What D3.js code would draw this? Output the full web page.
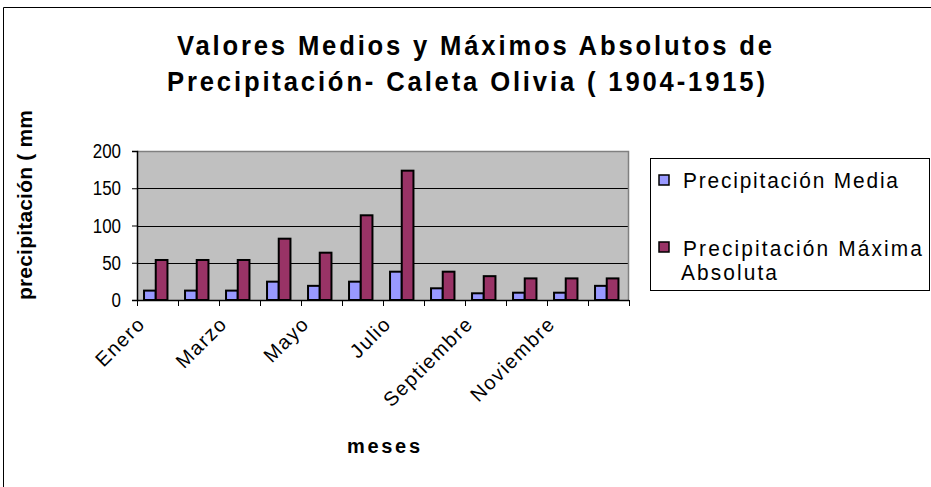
<!DOCTYPE html>
<html><head><meta charset="utf-8">
<script src="https://cdn.jsdelivr.net/npm/d3@7"></script>
<style>body{margin:0;background:#fff}svg{display:block}text{font-family:Arial,"Liberation Sans",sans-serif}</style>
</head><body><svg id="c" width="931" height="487"></svg>
<script>
const months = ["Enero","Febrero","Marzo","Abril","Mayo","Junio","Julio","Agosto","Septiembre","Octubre","Noviembre","Diciembre"];
const seriesNames = ["Precipitación Media","Precipitación Máxima Absoluta"];
const media = [12.6,12.6,12.6,24.6,19,24.6,38,15.7,9,9.8,9.8,19];
const maxima = [53.7,53.7,53.7,82.3,63.5,113.7,173.6,38,32,29,29,29];
const yTicks = [0,50,100,150,200];
const colors = ["#9999FF","#993366"];
const titleLines = ["Valores Medios y Máximos Absolutos de","Precipitación- Caleta Olivia ( 1904-1915)"];

const svg = d3.select("#c");
const L=137,R=629,T=151,B=300;
function stext(x,y,str,size,len,bold,anchor,sx){
  sx = sx||1;
  const t = svg.append("text").attr("transform",`translate(${x},${y}) scale(${sx},1)`)
    .attr("font-size",size).attr("font-weight",bold?"bold":"normal").text(str);
  if(anchor) t.attr("text-anchor",anchor);
  if(len) t.attr("textLength",len/sx).attr("lengthAdjust","spacing");
  return t;
}
// outer frame
svg.append("path").attr("d","M3.5,487 V7.5 H931").attr("fill","none").attr("stroke","#000");

const x0 = d3.scaleBand().domain(months).range([L,R]).padding(0);
const bw = x0.bandwidth()/3.5;
const x1 = d3.scaleBand().domain([0,1]).range([bw*0.6, bw*0.6+2*bw]).padding(0);
const y = d3.scaleLinear().domain([0,200]).range([B,T]);

svg.append("rect").attr("x",L).attr("y",T).attr("width",R-L).attr("height",B-T).attr("fill","#C0C0C0");
svg.append("g").selectAll("line").data(yTicks.filter(v=>v>0&&v<200)).join("line")
  .attr("x1",L).attr("x2",R).attr("y1",d=>Math.round(y(d))+0.5).attr("y2",d=>Math.round(y(d))+0.5).attr("stroke","#000");
svg.append("path").attr("d",`M${L},${T+0.5} H${R-0.5} V${B}`).attr("fill","none").attr("stroke","#808080").attr("stroke-width",1.5);

const data = months.map((m,i)=>({m,vals:[media[i],maxima[i]]}));
const g = svg.append("g").selectAll("g").data(data).join("g").attr("transform",d=>`translate(${x0(d.m)},0)`);
g.selectAll("rect").data(d=>d.vals.map((v,k)=>({v,k}))).join("rect")
  .attr("x",d=>x1(d.k)).attr("width",x1.bandwidth())
  .attr("y",d=>y(d.v)).attr("height",d=>B-y(d.v))
  .attr("fill",d=>colors[d.k]).attr("stroke","#000").attr("stroke-width",2);

// y axis
const ya = svg.append("g").attr("transform",`translate(${L},0)`).call(d3.axisLeft(y).tickValues(yTicks).tickSize(5).tickFormat(""));
ya.select(".domain").attr("stroke","#000").attr("stroke-width",1.5);
yTicks.forEach(v=>stext(121, y(v)+7, String(v), 19.5, null, false, "end", 0.87));
// x axis
const xTickPos = months.map(m=>x0(m)).concat([R]);
svg.append("line").attr("x1",L).attr("x2",R).attr("y1",B+0.5).attr("y2",B+0.5).attr("stroke","#000").attr("stroke-width",1.5);
svg.append("g").selectAll("line").data(xTickPos).join("line")
  .attr("x1",d=>Math.round(d)+0.5).attr("x2",d=>Math.round(d)+0.5).attr("y1",B).attr("y2",B+6).attr("stroke","#000");
svg.append("g").selectAll("text").data(months.filter((m,i)=>i%2===0)).join("text")
  .attr("transform",d=>`translate(${x0(d)+x0.bandwidth()/2-11},${B+25}) rotate(-45)`)
  .attr("text-anchor","end").attr("font-size",20).attr("letter-spacing",1.5).text(d=>d);

// titles
titleLines.forEach((t,i)=>stext(i===0?177:167, i===0?55:91, t, 27, i===0?595:598, true, null, 0.95));
stext(347, 453, "meses", 20, 73, true);
svg.append("text").attr("transform",`translate(32,300) rotate(-90)`).attr("font-size",21).attr("font-weight","bold")
  .attr("textLength",190).attr("lengthAdjust","spacing").text("precipitación ( mm");

// legend
svg.append("rect").attr("x",650.5).attr("y",158.5).attr("width",279).attr("height",132).attr("fill","#fff").attr("stroke","#000");
const legY=[[175,188,215,["Precipitación Media"]],[242,256,239,["Precipitación Máxima","Absoluta"]]];
legY.forEach((l,k)=>{
  svg.append("rect").attr("x",659).attr("y",l[0]).attr("width",10).attr("height",10).attr("fill",colors[k]).attr("stroke","#000").attr("stroke-width",1.5);
  l[3].forEach((t,j)=>stext(j===0?683:681, l[1]+j*24, t, 22, j===0?l[2]:96, false, null, 0.95));
});
</script></body></html>
